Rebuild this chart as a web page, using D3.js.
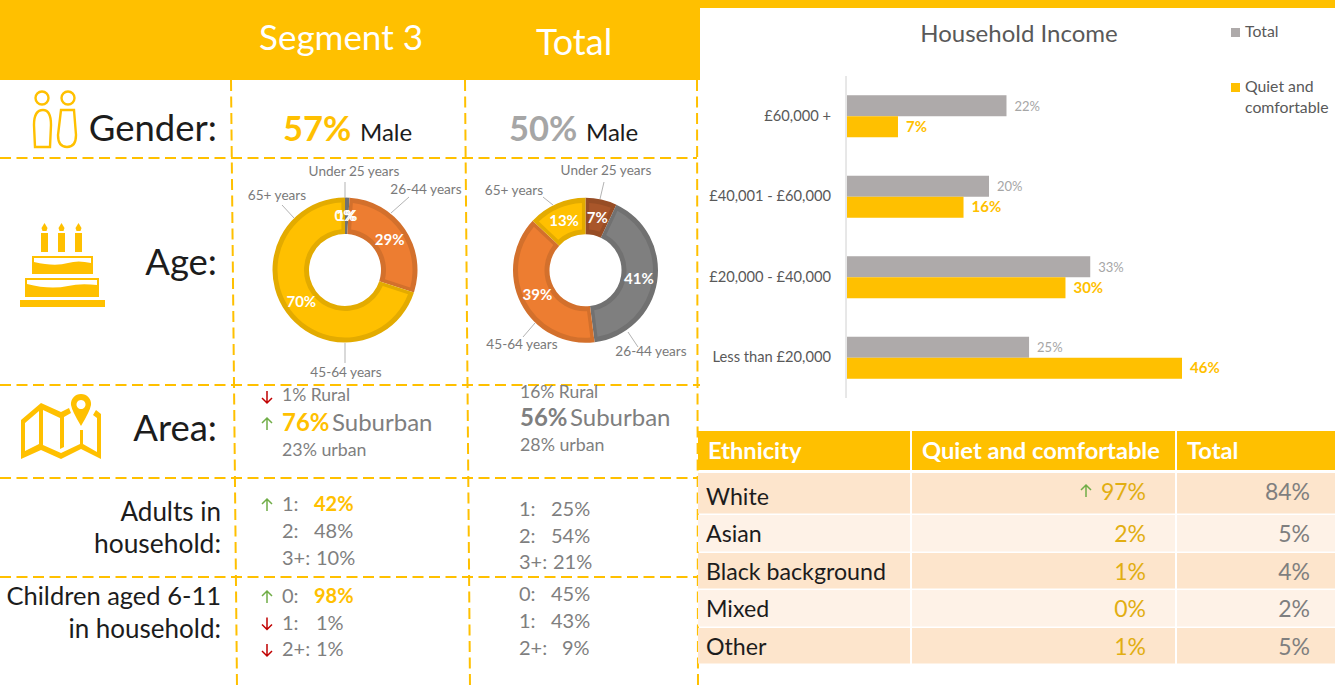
<!DOCTYPE html>
<html><head><meta charset="utf-8">
<script src="https://cdnjs.cloudflare.com/ajax/libs/d3/7.8.5/d3.min.js"></script>
<style>html,body{margin:0;padding:0;background:#fff;overflow:hidden}svg{display:block;font-family:Lato,"Open Sans",sans-serif}</style>
</head><body><svg id="c" width="1335" height="687"></svg>
<script>
// ---------- data ----------
const ageGroups = ["Under 25 years","26-44 years","45-64 years","65+ years"];
const ageSegment = [1,29,70,0];
const ageTotal = [7,41,39,13];
const incomeCats = ["£60,000 +","£40,001 - £60,000","£20,000 - £40,000","Less than £20,000"];
const incomeTotal = [21.9,19.5,33.4,25];
const incomeSegment = [7,16,30,46];
const ethnicityCats = ["White","Asian","Black background","Mixed","Other"];
const ethnicitySegment = [97,2,1,0,1];
const ethnicityTotal = [84,5,4,2,5];
const adultsLabels = ["1:","2:","3+:"];
const adultsSegment = [42,48,10];
const adultsTotal = [25,54,21];
const childLabels = ["0:","1:","2+:"];
const childSegment = [98,1,1];
const childTotal = [45,43,9];
const genderMale = {segment:57,total:50};
const areaSegment = [1,76,23];
const areaTotal = [16,56,28];

// ---------- styles ----------
const YEL="#ffc000",ORG="#ed7d31",GRY="#7f7f7f",BRN="#a9562a",LGRY="#aeaaaa",TXT="#1c1c1c";
const svg=d3.select("#c");
function t(x,y,s,size,fill,anchor,weight){
  return svg.append("text").attr("x",x).attr("y",y).text(s).attr("font-size",size)
   .attr("fill",fill).attr("text-anchor",anchor||"start").attr("font-weight",weight||400);
}
// ---------- header ----------
svg.append("rect").attr("width",1335).attr("height",8).attr("fill",YEL);
svg.append("rect").attr("width",700).attr("height",80).attr("fill",YEL);
t(341,50,"Segment 3",35,"#fff","middle");
t(574,55,"Total",36,"#fff","middle");

// ---------- dashed grid ----------
const dash=g=>g.attr("stroke",YEL).attr("stroke-width",2).attr("stroke-dasharray","11 5.5").attr("fill","none");
[[231,80,237,687],[465,80,470,687],[697,80,698,687],
 [0,158,697,158],[0,385,700,385],[0,478,700,478],[0,577,700,577]].forEach(l=>{
  svg.append("line").attr("x1",l[0]).attr("y1",l[1]).attr("x2",l[2]).attr("y2",l[3]).call(dash);
});

// ---------- row labels ----------
t(217,141,"Gender:",36.5,TXT,"end");
t(217,275,"Age:",36.5,TXT,"end");
t(217,441,"Area:",36.5,TXT,"end");
t(221,521,"Adults in",26,TXT,"end");
t(221,553,"household:",26.4,TXT,"end");
t(221,605,"Children aged 6-11",25.5,TXT,"end");
t(221,638,"in household:",26,TXT,"end");

// ---------- icons ----------
const ic=svg.append("g").attr("fill","none").attr("stroke",YEL).attr("stroke-width",2.4);
ic.append("circle").attr("cx",42).attr("cy",98).attr("r",6.5);
ic.append("circle").attr("cx",68).attr("cy",98).attr("r",6.5);
ic.append("path").attr("d","M35 147 L34 125 Q34 110 43 110 Q51 110 51 125 L50 147 Z");
ic.append("path").attr("d","M61 110 L74 110 L76 135 Q76 147 67 147 Q58 147 58 135 Z");
const cake=svg.append("g").attr("fill",YEL);
[41,58,75].forEach(x=>{
  cake.append("rect").attr("x",x).attr("y",233).attr("width",7).attr("height",19);
  cake.append("path").attr("d",`M${x+3.5} 223 l3 5 l-1 3 h-4 l-1 -3 z`);
});
cake.append("path").attr("d","M32 256 H93 V274 H32 Z");
cake.append("path").attr("d","M34 258 H91 V263 Q78 260 68 263 Q55 267 34 262 Z").attr("fill","#fff");
cake.append("path").attr("d","M25 278 H99 V297 H25 Z");
cake.append("path").attr("d","M27 280 H97 V285 Q80 283 68 286 Q50 290 27 284 Z").attr("fill","#fff");
cake.append("rect").attr("x",20).attr("y",300).attr("width",85).attr("height",7);
const map=svg.append("g").attr("fill",YEL);
map.append("path").attr("fill-rule","evenodd").attr("d",
 "M21 420 L41 403 L61 412 L69 408 L71 413 L64 417 L64 447 L60 449 L60 418 L43 410 L43 445 L61 453 L80 444 L80 430 L83 430 L83 444 L97 452 L97 418 L93 415 L96 410 L101 414 L101 459 L81 449 L61 459 L41 450 L21 459 Z M25 423 L25 451 L39 444 L39 411 Z");
map.append("path").attr("fill-rule","evenodd").attr("d",
 "M81 394 A10 10 0 0 1 91 405 Q90 411 81 426 Q72 411 71 405 A10 10 0 0 1 81 394 Z M81 400 A4.5 4.5 0 1 0 81.01 400 Z");

// ---------- gender ----------
t(283,141,genderMale.segment+"%",34.5,YEL,"start",700);
t(360,141,"Male",24,TXT);
t(509,141,genderMale.total+"%",34.5,"#a6a6a6","start",700);
t(586,141,"Male",24,TXT);

// ---------- donuts ----------
const pie=d3.pie().sort(null).value(d=>d);
function donut(cx,cy,vals,colors,labelPos){
  const R=72.5,r0=36;
  const g=svg.append("g").attr("transform",`translate(${cx},${cy})`);
  const arcs=pie(vals);
  const outer=d3.arc().innerRadius(r0).outerRadius(R);
  const inner=d3.arc().innerRadius(r0+5).outerRadius(R-5).padAngle(0.09).padRadius(80);
  g.selectAll("path.o").data(arcs).join("path").attr("class","o").attr("d",outer)
    .attr("fill",(d,i)=>d3.color(colors[i]).darker(0.32));
  g.selectAll("path.i").data(arcs).join("path").attr("class","i").attr("d",inner)
    .attr("fill",(d,i)=>colors[i]);
  const mid=d3.arc().innerRadius(36).outerRadius(72);
  g.selectAll("text.p").data(arcs).join("text").attr("class","p")
    .attr("transform",d=>`translate(${mid.centroid(d)})`).attr("dy",5)
    .attr("text-anchor","middle").attr("fill","#fff").attr("font-weight",700).attr("font-size",15)
    .text(d=>d.data+"%");
  labelPos.forEach((l,i)=>{
    svg.append("line").attr("x1",l[2]).attr("y1",l[3]).attr("x2",l[4]).attr("y2",l[5])
      .attr("stroke","#b3b3b3").attr("stroke-width",1);
    t(l[0],l[1],ageGroups[i],13.6,"#7a7a7a","middle");
  });
}
// label placement: text x, text baseline, leader start, leader end
donut(345,270,ageSegment,[GRY,ORG,YEL,YEL],[
  [354,176,345,198,345,182],[426,194,391,213,409,197],[346,377,345,343,345,363],[277,200,294,218,282,205]]);
donut(585.5,270.3,ageTotal,[BRN,GRY,ORG,YEL],[
  [606,175,600,199,604,182],[651,356,628,332,638,347],[522,349,535,323,523,337],[514,195,553,205,543,197]]);

// ---------- arrows ----------
function arrow(x,y,up){
  const c=up?"#70ad47":"#c00000",d=up?-1:1;
  svg.append("path").attr("fill","none").attr("stroke",c).attr("stroke-width",1.5)
   .attr("d",`M${x} ${y-6*d} V${y+6*d} M${x-5} ${y+1*d} L${x} ${y+6*d} L${x+5} ${y+1*d}`);
}
// ---------- area ----------
t(282,401,areaSegment[0]+"% Rural",17.5,GRY); arrow(267,397,false);
t(282,431,areaSegment[1]+"%",24,YEL,"start",700); t(332,431,"Suburban",24,GRY); arrow(267,424,true);
t(282,456,areaSegment[2]+"% urban",17.8,GRY);
t(520,398,areaTotal[0]+"% Rural",17.5,GRY);
t(520,426,areaTotal[1]+"%",24,GRY,"start",700); t(570,426,"Suburban",24,GRY);
t(520,451,areaTotal[2]+"% urban",17.8,GRY);

// ---------- household lists ----------
function list(labels,vals,x,xv,y0,step,nudge,boldFirst,arrows){
  labels.forEach((l,i)=>{
    const y=y0+i*step;
    t(x,y,l,20,GRY);
    t(xv+nudge[i],y,vals[i]+"%",20,(boldFirst&&i==0)?YEL:GRY,"start",(boldFirst&&i==0)?700:400);
    if(arrows&&arrows[i]!==null) arrow(267,y-6,arrows[i]);
  });
}
list(adultsLabels,adultsSegment,282,314,511,27,[0,0,2],true,[true,null,null]);
list(adultsLabels,adultsTotal,519,551,516,26.5,[0,0,2],false);
list(childLabels,childSegment,282,314,603,26.5,[0,2,2],true,[true,false,false]);
list(childLabels,childTotal,519,551,601,27,[0,0,11],false);

// ---------- household income chart ----------
const x=d3.scaleLinear().domain([0,46]).range([847,1182]);
const y=d3.scaleBand().domain(incomeCats).range([76,398]).paddingInner(0.478).paddingOuter(0.239);
const incomeSeries=[{key:"Total",vals:incomeTotal,color:LGRY},{key:"Quiet and comfortable",vals:incomeSegment,color:YEL}];
const y2=d3.scaleBand().domain(incomeSeries.map(d=>d.key)).range([0,y.bandwidth()]);
t(1019,42,"Household Income",24,"#595959","middle");
const yAxis=svg.append("g").attr("transform","translate(846,0)")
  .call(d3.axisLeft(y).tickSize(0).tickPadding(15));
yAxis.select(".domain").attr("stroke","#d0d0d0").attr("d","M0 76V398");
yAxis.selectAll("text").attr("font-size",14.7).attr("fill","#595959").attr("font-family","Lato");
incomeSeries.forEach(s=>{
  const g=svg.append("g");
  g.selectAll("rect").data(s.vals).join("rect")
   .attr("x",x(0)).attr("y",(d,i)=>y(incomeCats[i])+y2(s.key))
   .attr("width",d=>x(d)-x(0)).attr("height",y2.bandwidth()).attr("fill",s.color);
  const isT=s.key=="Total";
  g.selectAll("text").data(s.vals).join("text")
   .attr("x",d=>x(d)+8).attr("y",(d,i)=>y(incomeCats[i])+y2(s.key)+y2.bandwidth()/2+5)
   .attr("font-size",isT?13:15).attr("font-weight",isT?400:700).attr("fill",isT?"#a6a6a6":YEL)
   .text(d=>Math.round(d)+"%");
});
// legend
svg.append("rect").attr("x",1231).attr("y",28).attr("width",9).attr("height",9).attr("fill",LGRY);
t(1245,37,"Total",15.8,"#595959");
svg.append("rect").attr("x",1231).attr("y",83).attr("width",9).attr("height",9).attr("fill",YEL);
t(1245,92,"Quiet and",15.8,"#595959");
t(1245,113,"comfortable",15.8,"#595959");

// ---------- ethnicity table ----------
const colX=[698,912,1177,1335];
const headers=["Ethnicity","Quiet and comfortable","Total"];
headers.forEach((h,i)=>{
  svg.append("rect").attr("x",colX[i]).attr("y",431).attr("width",colX[i+1]-colX[i]-(i<2?2:0)).attr("height",39).attr("fill",YEL);
  t(colX[i]+10,459,h,23.7,"#fff","start",700);
});
const rowEdges=[473,515,553,590,628,665];
ethnicityCats.forEach((c,i)=>{
  const fill=i%2==0?"#fde5cc":"#fef2e7";
  for(let k=0;k<3;k++){
    svg.append("rect").attr("x",colX[k]).attr("y",rowEdges[i]).attr("width",colX[k+1]-colX[k]-(k<2?2:0))
      .attr("height",rowEdges[i+1]-rowEdges[i]-1.5).attr("fill",fill);
  }
  const b=rowEdges[i]+(i==0?32:27);
  t(706,b,c,23.2,TXT);
  t(1146,b-(i==0?5:0),ethnicitySegment[i]+"%",23,"#e2ae12","end");
  t(1310,b-(i==0?5:0),ethnicityTotal[i]+"%",23,GRY,"end");
});
arrow(1086,491,true);
</script></body></html>
